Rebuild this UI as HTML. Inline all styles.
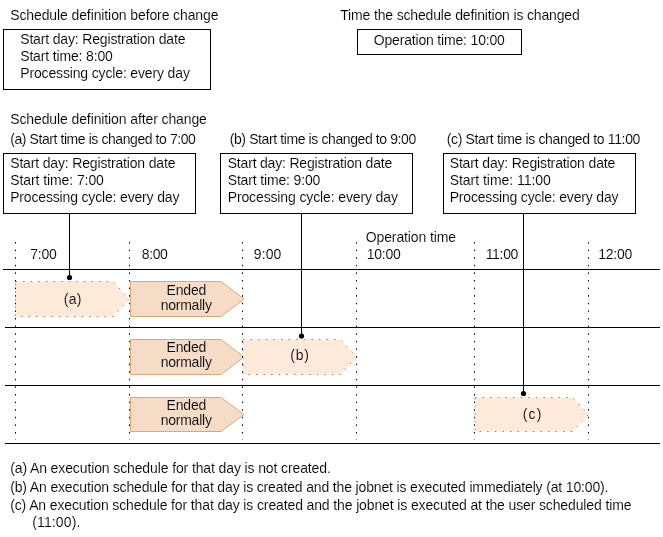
<!DOCTYPE html>
<html><head><meta charset="utf-8"><title>Schedule definition change</title>
<style>
html,body{margin:0;padding:0;background:#fff;}
svg{display:block;}
text{font-family:"Liberation Sans",Arial,sans-serif;font-size:14px;fill:#000;stroke:#fff;stroke-width:0.11px;}


text.l{stroke:#fdeadb;}
text.d{stroke:#f6dcc6;}
</style></head><body>
<svg width="663" height="537" viewBox="0 0 663 537">
<rect width="663" height="537" fill="#fff"/>

<rect x="3.5" y="29.5" width="207" height="60" fill="#fff" stroke="#000" stroke-width="1"/>
<rect x="357.5" y="29.5" width="164" height="25" fill="#fff" stroke="#000" stroke-width="1"/>
<rect x="3.5" y="153.5" width="192" height="60" fill="#fff" stroke="#000" stroke-width="1"/>
<rect x="220.5" y="153.5" width="192" height="60" fill="#fff" stroke="#000" stroke-width="1"/>
<rect x="443.5" y="153.5" width="192" height="60" fill="#fff" stroke="#000" stroke-width="1"/>
<line x1="3" y1="269.5" x2="660" y2="269.5" stroke="#000" stroke-width="1"/>
<line x1="5" y1="327.5" x2="660" y2="327.5" stroke="#000" stroke-width="1"/>
<line x1="5" y1="385.5" x2="660" y2="385.5" stroke="#000" stroke-width="1"/>
<line x1="5" y1="443.5" x2="660" y2="443.5" stroke="#000" stroke-width="1"/>
<path d="M15.5 281.5H113.0L129.0 299.0L113.0 316.5H15.5Z" fill="#fdeadb" stroke="#c87838" stroke-width="1" stroke-dasharray="1.5 6.1"/>
<path d="M130.5 281.5H221.0L244.0 299.0L221.0 316.5H130.5Z" fill="#f6dcc6" stroke="#dca878" stroke-width="1"/>
<path d="M130.5 339.5H221.0L244.0 357.0L221.0 374.5H130.5Z" fill="#f6dcc6" stroke="#dca878" stroke-width="1"/>
<path d="M130.5 397.5H221.0L244.0 414.5L221.0 431.5H130.5Z" fill="#f6dcc6" stroke="#dca878" stroke-width="1"/>
<path d="M243.0 339.5H340.5L356.5 357.0L340.5 374.5H243.0Z" fill="#fdeadb" stroke="#c87838" stroke-width="1" stroke-dasharray="1.5 6.1"/>
<path d="M475.0 397.5H572.5L588.5 414.5L572.5 431.5H475.0Z" fill="#fdeadb" stroke="#c87838" stroke-width="1" stroke-dasharray="1.5 6.1"/>
<line x1="15.5" y1="242" x2="15.5" y2="440" stroke="#000" stroke-width="1" stroke-dasharray="1.5 6.1"/>
<line x1="129.5" y1="242" x2="129.5" y2="440" stroke="#000" stroke-width="1" stroke-dasharray="1.5 6.1"/>
<line x1="242.5" y1="242" x2="242.5" y2="440" stroke="#000" stroke-width="1" stroke-dasharray="1.5 6.1"/>
<line x1="356.5" y1="242" x2="356.5" y2="440" stroke="#000" stroke-width="1" stroke-dasharray="1.5 6.1"/>
<line x1="474.5" y1="242" x2="474.5" y2="440" stroke="#000" stroke-width="1" stroke-dasharray="1.5 6.1"/>
<line x1="588.5" y1="242" x2="588.5" y2="440" stroke="#000" stroke-width="1" stroke-dasharray="1.5 6.1"/>
<line x1="69.5" y1="213" x2="69.5" y2="277.5" stroke="#000" stroke-width="1"/>
<circle cx="69.5" cy="277.5" r="2.6" fill="#000"/>
<line x1="301.5" y1="213" x2="301.5" y2="336" stroke="#000" stroke-width="1"/>
<circle cx="301.5" cy="336" r="2.6" fill="#000"/>
<line x1="523.5" y1="213" x2="523.5" y2="393.5" stroke="#000" stroke-width="1"/>
<circle cx="523.5" cy="393.5" r="2.6" fill="#000"/>
<text x="10.20" y="19.5" textLength="208.30" lengthAdjust="spacing">Schedule definition before change</text>
<text x="20.20" y="43.5" textLength="165.30" lengthAdjust="spacing">Start day: Registration date</text>
<text x="20.20" y="60.5" textLength="92.70" lengthAdjust="spacing">Start time: 8:00</text>
<text x="20.20" y="77.6" textLength="169.70" lengthAdjust="spacing">Processing cycle: every day</text>
<text x="340.20" y="19.5" textLength="239.60" lengthAdjust="spacing">Time the schedule definition is changed</text>
<text x="373.70" y="45" textLength="131.20" lengthAdjust="spacing">Operation time: 10:00</text>
<text x="10.20" y="124" textLength="196.70" lengthAdjust="spacing">Schedule definition after change</text>
<text x="10.20" y="144" textLength="185.70" lengthAdjust="spacing">(a) Start time is changed to 7:00</text>
<text x="229.70" y="144" textLength="186.60" lengthAdjust="spacing">(b) Start time is changed to 9:00</text>
<text x="446.70" y="144" textLength="193.70" lengthAdjust="spacing">(c) Start time is changed to 11:00</text>
<text x="10.20" y="167.9" textLength="165.30" lengthAdjust="spacing">Start day: Registration date</text>
<text x="10.20" y="184.5" textLength="93.70" lengthAdjust="spacing">Start time: 7:00</text>
<text x="10.20" y="202" textLength="169.20" lengthAdjust="spacing">Processing cycle: every day</text>
<text x="227.70" y="167.9" textLength="164.60" lengthAdjust="spacing">Start day: Registration date</text>
<text x="227.70" y="184.5" textLength="92.70" lengthAdjust="spacing">Start time: 9:00</text>
<text x="227.70" y="202" textLength="170.20" lengthAdjust="spacing">Processing cycle: every day</text>
<text x="449.70" y="167.9" textLength="165.60" lengthAdjust="spacing">Start day: Registration date</text>
<text x="449.70" y="184.5" textLength="101.20" lengthAdjust="spacing">Start time: 11:00</text>
<text x="449.70" y="202" textLength="168.80" lengthAdjust="spacing">Processing cycle: every day</text>
<text x="30.20" y="258.5" textLength="26.70" lengthAdjust="spacing">7:00</text>
<text x="141.70" y="258.5" textLength="26.20" lengthAdjust="spacing">8:00</text>
<text x="253.70" y="258.5" textLength="27.70" lengthAdjust="spacing">9:00</text>
<text x="365.70" y="242" textLength="90.40" lengthAdjust="spacing">Operation time</text>
<text x="366.70" y="258.5" textLength="34.20" lengthAdjust="spacing">10:00</text>
<text x="485.70" y="258.5" textLength="32.70" lengthAdjust="spacing">11:00</text>
<text x="598.20" y="258.5" textLength="34.20" lengthAdjust="spacing">12:00</text>
<text x="10.20" y="473" textLength="320.60" lengthAdjust="spacing">(a) An execution schedule for that day is not created.</text>
<text x="10.20" y="491.5" textLength="598.30" lengthAdjust="spacing">(b) An execution schedule for that day is created and the jobnet is executed immediately (at 10:00).</text>
<text x="10.20" y="509.5" textLength="621.30" lengthAdjust="spacing">(c) An execution schedule for that day is created and the jobnet is executed at the user scheduled time</text>
<text x="32.20" y="527" textLength="48.20" lengthAdjust="spacing">(11:00).</text>
<text class="l" x="63.70" y="303.8" textLength="17.70" lengthAdjust="spacing">(a)</text>
<text class="l" x="290.20" y="360" textLength="18.70" lengthAdjust="spacing">(b)</text>
<text class="l" x="522.70" y="418.6" textLength="18.70" lengthAdjust="spacing">(c)</text>
<text class="d" x="166.50" y="295" textLength="39.90" lengthAdjust="spacing">Ended</text>
<text class="d" x="160.70" y="309.8" textLength="51.20" lengthAdjust="spacing">normally</text>
<text class="d" x="166.50" y="352" textLength="39.90" lengthAdjust="spacing">Ended</text>
<text class="d" x="160.70" y="367.3" textLength="51.20" lengthAdjust="spacing">normally</text>
<text class="d" x="166.50" y="410" textLength="39.90" lengthAdjust="spacing">Ended</text>
<text class="d" x="160.70" y="424.8" textLength="51.20" lengthAdjust="spacing">normally</text>
</svg></body></html>
